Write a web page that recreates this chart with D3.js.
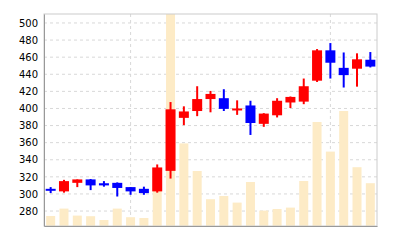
<!DOCTYPE html>
<html>
<head>
<meta charset="utf-8">
<script src="https://cdn.jsdelivr.net/npm/d3@7"></script>
<style>
  body { margin: 0; background: #fff; }
  .axis text { font-family: "DejaVu Sans", sans-serif; font-size: 10px; fill: #000; }
</style>
</head>
<body>
<div id="chart"></div>
<script>
// daily OHLC + volume
var days = d3.range(25)
var opens  = [306, 303, 313, 317, 312.5, 313, 308, 306, 303, 327, 389, 397, 411, 412, 399, 403.5, 382, 392, 407, 408, 432.5, 468, 447.5, 446.5, 457]
var closes = [304, 315, 317, 310, 310, 307, 303, 301, 331, 399, 396.5, 411, 417, 399.5, 400, 383, 394, 409, 413.5, 426, 468, 453.5, 439, 457.5, 449]
var highs  = [308, 316.5, 317, 317.5, 315, 313.5, 308, 308.5, 334.5, 407.5, 402.5, 426, 420.5, 422.5, 409.5, 409, 394.5, 412, 414, 435, 469.5, 476.5, 465.5, 464.5, 466]
var lows   = [301, 301.5, 308, 304.5, 308.5, 297, 299, 299, 301.5, 318, 380.5, 391, 395.5, 397, 392.5, 369, 378.5, 389.5, 400.5, 405, 431, 435, 424.5, 425.5, 448]
var volumes = [50, 87, 52, 49, 30, 87, 44, 40, 175, 1060, 413, 275, 134, 150, 117, 220, 77, 85, 92, 225, 520, 372, 575, 294, 214]
var yTicks = [280, 300, 320, 340, 360, 380, 400, 420, 440, 460, 480, 500]
var xTickDays = [6, 21]

var margin = {top: 14, right: 23, bottom: 14, left: 44}
var width = 400 - margin.left - margin.right,
    height = 240 - margin.top - margin.bottom

var svg = d3.select("#chart").append("svg")
    .attr("width", 400)
    .attr("height", 240)
    .append("g")
    .attr("transform", "translate(" + margin.left + "," + margin.top + ")")

var xScale = d3.scaleBand().domain(days).range([0, width])
var yScale = d3.scaleLinear().domain([262.5, 510.5]).range([height, 0])
var volScale = d3.scaleLinear().domain([0, d3.max(volumes)]).range([height, 0])

// grid
svg.selectAll(".hgrid")
  .data(yTicks)
  .enter().append("line")
  .attr("x1", 0).attr("x2", width)
  .attr("y1", d => yScale(d)).attr("y2", d => yScale(d))
  .attr("stroke", "#d8d8d8")
  .attr("stroke-dasharray", "3,3")

svg.selectAll(".vgrid")
  .data(xTickDays)
  .enter().append("line")
  .attr("x1", d => xScale(d) + xScale.bandwidth() / 2)
  .attr("x2", d => xScale(d) + xScale.bandwidth() / 2)
  .attr("y1", 0).attr("y2", height)
  .attr("stroke", "#d8d8d8")
  .attr("stroke-dasharray", "3,3")

// volume
svg.selectAll(".vol")
  .data(days)
  .enter().append("rect")
  .attr("x", d => xScale(d) + xScale.bandwidth() / 2 - 4.5)
  .attr("width", 9)
  .attr("y", d => volScale(volumes[d]))
  .attr("height", d => height - volScale(volumes[d]))
  .attr("fill", "#fdebc6")

// candles
var candle = svg.selectAll(".candle")
  .data(days)
  .enter().append("g")
  .attr("transform", d => "translate(" + (xScale(d) + xScale.bandwidth() / 2) + ",0)")

var colour = d => closes[d] >= opens[d] ? "#ff0000" : "#0000ff"

candle.append("line")
  .attr("y1", d => yScale(highs[d]))
  .attr("y2", d => yScale(lows[d]))
  .attr("stroke", colour)
  .attr("stroke-width", 2)

candle.append("rect")
  .attr("x", -5)
  .attr("width", 10)
  .attr("y", d => yScale(Math.max(opens[d], closes[d])))
  .attr("height", d => Math.max(2, Math.abs(yScale(opens[d]) - yScale(closes[d]))))
  .attr("fill", colour)

// frame
svg.append("rect")
  .attr("width", width).attr("height", height)
  .attr("fill", "none")
  .attr("stroke", "#cccccc")

var yAxis = d3.axisLeft(yScale).tickValues(yTicks).tickSize(0).tickSizeOuter(0).tickPadding(6)
svg.append("g")
  .attr("class", "axis y-axis")
  .call(yAxis)
  .call(g => g.select(".domain").attr("stroke", "#999"))

var xAxis = d3.axisBottom(xScale).tickValues(xTickDays).tickSize(0).tickSizeOuter(0).tickFormat("")
svg.append("g")
  .attr("class", "axis x-axis")
  .attr("transform", "translate(0," + height + ")")
  .call(xAxis)
  .call(g => g.select(".domain").attr("stroke", "#999"))
</script>
</body>
</html>
